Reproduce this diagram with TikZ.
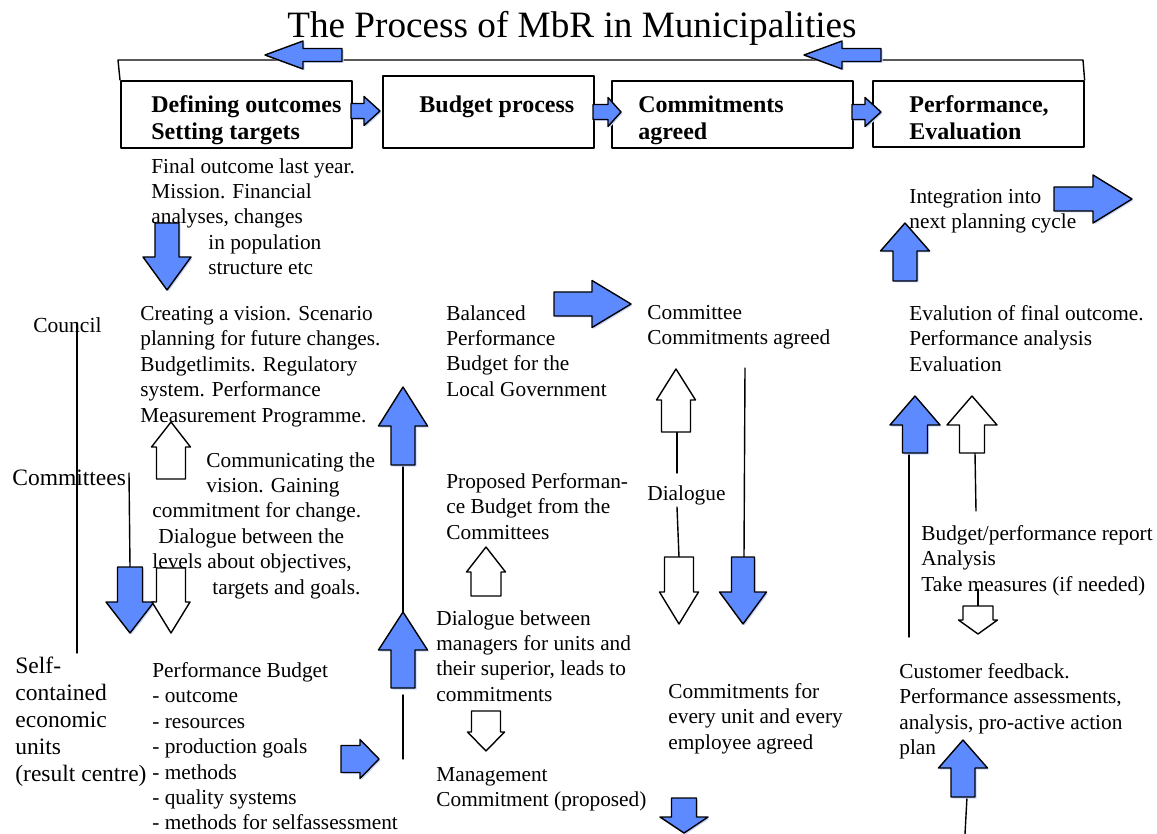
\documentclass[tikz,border=0pt]{standalone}
\usepackage{fontspec}
\setmainfont{Liberation Serif}
\definecolor{mbrblue}{RGB}{94,138,255}
\newcommand{\bodyfont}{\fontsize{10.65}{12.7}\selectfont}
\newcommand{\levelfont}{\fontsize{11.75}{13.5}\selectfont}
\newcommand{\stagefont}{\fontsize{12}{13.5}\selectfont\bfseries}

\begin{document}
\begin{tikzpicture}[
	x=0.5pt,y=-0.5pt,
	line cap=round,
	line join=round,
	every node/.style={inner sep=0pt,anchor=north west,align=left},
	txt/.style={font=\bodyfont},
	level/.style={font=\levelfont},
	stage/.style={draw,line width=0.8pt},
	stagetxt/.style={font=\stagefont},
	conn/.style={line width=0.7pt},
	blk/.style={draw,line width=0.7pt},
	blkshadow/.style={shift={(1.5,1.5)},draw=none}
	]
	\useasboundingbox (0,0) rectangle (1157,834);
	\node[anchor=base,font=\fontsize{18.6}{22}\selectfont] (title) at (572,38) {The Process of MbR in Municipalities};

	% the four stages
	\node[stage,minimum width=115.5pt,minimum height=33.5pt] (define) at (120,80) {};
	\node[stage,minimum width=105.5pt,minimum height=36pt] (budget) at (382,75) {};
	\node[stage,minimum width=120.5pt,minimum height=33.5pt] (commit) at (611,80) {};
	\node[stage,minimum width=105.5pt,minimum height=33pt] (evaluate) at (872,80) {};
	\node[stagetxt] (definetxt) at (151,95.5) {Defining outcomes\\Setting targets};
	\node[stagetxt] (budgettxt) at (419,95.5) {Budget process};
	\node[stagetxt] (committxt) at (638,95.5) {Commitments\\agreed};
	\node[stagetxt] (evaluatetxt) at (909,95.5) {Performance,\\Evaluation};
	\coordinate (fbl) at (118,60);
	\coordinate (fbr) at (1083,60);
	\draw[conn] (define.north west) -- (fbl) -- (fbr) -- (evaluate.north east);

	% connectors
	\coordinate (lvtop) at (77,323);   \coordinate (lvbot) at (77,653);
	\coordinate (cmtop) at (129,473);  \coordinate (cmbot) at (130,567);
	\coordinate (bpa) at (403,465);    \coordinate (bpb) at (403,612);
	\coordinate (bpc) at (403,695);    \coordinate (bpd) at (403,759);
	\coordinate (dla) at (677,432);    \coordinate (dlb) at (677,473);
	\coordinate (dlc) at (677,507);    \coordinate (dld) at (679,557);
	\coordinate (cca) at (745,368);    \coordinate (ccb) at (744,557);
	\coordinate (eva) at (909,453);    \coordinate (evb) at (909,637);
	\coordinate (evc) at (975,453);    \coordinate (evd) at (976,511);
	\coordinate (rpa) at (978,589);    \coordinate (rpb) at (978,606);
	\coordinate (cfa) at (967,797);    \coordinate (cfb) at (965,834);
	\draw[conn] (lvtop) -- (lvbot);
	\draw[conn] (cmtop) -- (cmbot);
	\draw[conn] (bpa) -- (bpb);
	\draw[conn] (bpc) -- (bpd);
	\draw[conn] (dla) -- (dlb);
	\draw[conn] (dlc) -- (dld);
	\draw[conn] (cca) -- (ccb);
	\draw[conn] (eva) -- (evb);
	\draw[conn] (evc) -- (evd);
	\draw[conn] (rpa) -- (rpb);
	\draw[conn] (cfa) -- (cfb);

	% block arrows: x / tail / head base / tip / shaft half / head half / fill / shadow
	\begin{scope}[blk]
		\foreach \x/\t/\b/\p/\s/\h/\c/\d in {
			167/223/257/290/12/24/mbrblue/mbrblue!35,
			171/479/447/422/14.5/19.5/white/none,
			130/567/602/633/12.5/24/mbrblue/mbrblue!35,
			171/568/602/633/14.5/19/white/none,
			403/465/426/387/12/24.5/mbrblue/mbrblue!35,
			403/688/650/612/12/24.5/mbrblue/mbrblue!35,
			486/596/572/547/15/19.5/white/none,
			486/711/732/751/14.5/18.5/white/none,
			676/432/400/369/14.5/19.5/white/none,
			679/557/592/624/14.5/19.5/white/none,
			743/557/592/624/11.5/23.5/mbrblue/mbrblue!35,
			684/798/817/833/12.5/24/mbrblue/mbrblue!35,
			905/281/251/223/12/24.5/mbrblue/mbrblue!35,
			915/453/425/396/12.5/25/mbrblue/mbrblue!35,
			972/453/425/396/12.5/25/white/none,
			978/606/620/634/15/19.5/white/none,
			963/797/768/740/12/24.5/mbrblue/mbrblue!35}
		{
			\path[blkshadow,fill=\d] (\x-\s,\t) -- (\x-\s,\b) -- (\x-\h,\b) -- (\x,\p)
				-- (\x+\h,\b) -- (\x+\s,\b) -- (\x+\s,\t) -- cycle;
			\draw[fill=\c] (\x-\s,\t) -- (\x-\s,\b) -- (\x-\h,\b) -- (\x,\p)
				-- (\x+\h,\b) -- (\x+\s,\b) -- (\x+\s,\t) -- cycle;
		}
		\foreach \y/\t/\b/\p/\s/\h in {
			55/342/303/265/6.5/14,
			55/881/842/804/6.5/14,
			111/351/364/380/7.5/14.5,
			112/593/608/621/7.5/14.5,
			112/852/865/881/7.5/14.5,
			304/554/592/631/12/23.5,
			199/1054/1093/1132/12/24,
			759/341/360/379/13.5/19.5}
		{
			\path[blkshadow,fill=mbrblue!35] (\t,\y-\s) -- (\b,\y-\s) -- (\b,\y-\h) -- (\p,\y)
				-- (\b,\y+\h) -- (\b,\y+\s) -- (\t,\y+\s) -- cycle;
			\draw[fill=mbrblue] (\t,\y-\s) -- (\b,\y-\s) -- (\b,\y-\h) -- (\p,\y)
				-- (\b,\y+\h) -- (\b,\y+\s) -- (\t,\y+\s) -- cycle;
		}
	\end{scope}

	% levels
	\node[font=\fontsize{10.75}{12.7}\selectfont] (council) at (33,317) {Council};
	\node[level] (committees) at (12,470) {Committees};
	\node[level] (selfunits) at (15,657) {Self-\\contained\\economic\\units\\(result centre)};

	% texts
	\node[txt] (lastyear) at (151,158) {Final outcome last year.\\Mission. Financial\\analyses, changes\\\hspace*{28.5pt}in population\\\hspace*{28.5pt}structure etc};
	\node[txt] (vision) at (140,306) {Creating a vision. Scenario\\planning for future changes.\\Budgetlimits. Regulatory\\system. Performance\\Measurement Programme.};
	\node[txt] (communicate) at (152,452) {\hspace*{27pt}Communicating the\\\hspace*{27pt}vision. Gaining\\commitment for change.\\\hspace*{3pt}Dialogue between the\\levels about objectives,\\\hspace*{30pt}targets and goals.};
	\node[txt] (perfbudget) at (152,662) {Performance Budget\\- outcome\\- resources\\- production goals\\- methods\\- quality systems\\- methods for selfassessment};
	\node[txt] (balanced) at (446,305) {Balanced\\Performance\\Budget for the\\Local Government};
	\node[txt] (proposed) at (446,473) {Proposed Performan-\\ce Budget from the\\Committees};
	\node[txt] (managers) at (436,610) {Dialogue between\\managers for units and\\their superior, leads to\\commitments};
	\node[txt] (management) at (436,767) {Management\\Commitment (proposed)};
	\node[txt] (committee) at (647,305) {Committee\\Commitments agreed};
	\node[txt] (dialogue) at (647,485) {Dialogue};
	\node[txt] (everyunit) at (668,683) {Commitments for\\every unit and every\\employee agreed};
	\node[txt] (integration) at (909,189) {Integration into\\next planning cycle};
	\node[txt] (finaleval) at (909,305) {Evalution of final outcome.\\Performance analysis\\Evaluation};
	\node[txt] (report) at (921,525) {Budget/performance report\\Analysis\\Take measures (if needed)};
	\node[txt] (feedback) at (899,663) {Customer feedback.\\Performance assessments,\\analysis, pro-active action\\plan};
\end{tikzpicture}
\end{document}
